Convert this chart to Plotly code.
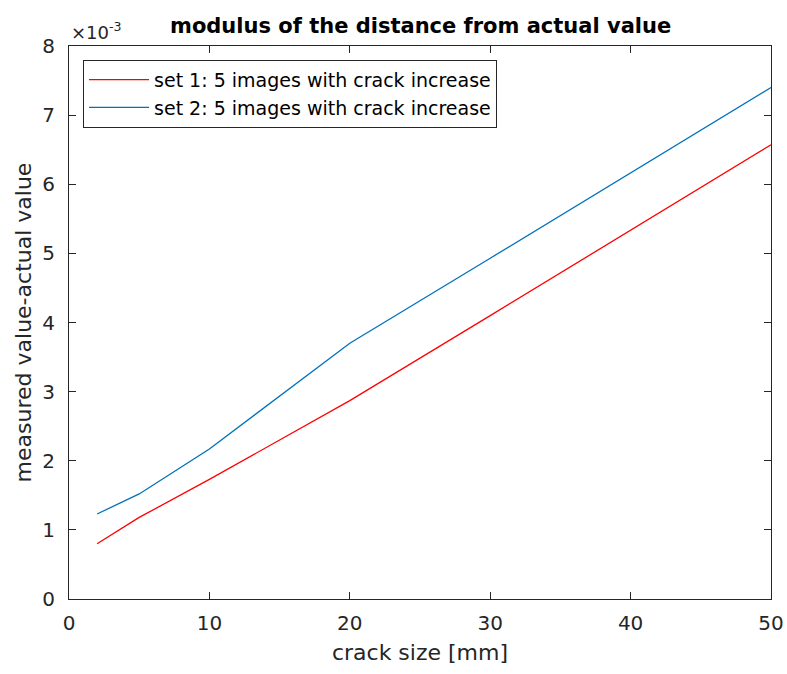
import plotly.graph_objects as go

crack_size = [2, 5, 10, 20, 30, 40, 50]
set1 = [0.00080, 0.00118, 0.00173, 0.00287, 0.00410, 0.00533, 0.00657]
set2 = [0.00123, 0.00152, 0.00217, 0.00370, 0.00493, 0.00617, 0.00740]
names = ["set 1: 5 images with crack increase", "set 2: 5 images with crack increase"]
y_ticks = [0, 0.001, 0.002, 0.003, 0.004, 0.005, 0.006, 0.007, 0.008]
y_ticktext = ["0", "1", "2", "3", "4", "5", "6", "7", "8"]
x_ticks = [0, 10, 20, 30, 40, 50]

font = "DejaVu Sans, Liberation Sans, Arial, sans-serif"
axcol = "#262626"

fig = go.Figure()
fig.add_trace(go.Scatter(x=crack_size, y=set1, mode="lines", name=names[0],
                         line=dict(color="#FF0000", width=1.3)))
fig.add_trace(go.Scatter(x=crack_size, y=set2, mode="lines", name=names[1],
                         line=dict(color="#0072BD", width=1.3)))

axis_common = dict(showgrid=False, zeroline=False, showline=True, linecolor=axcol,
                   linewidth=1, mirror="ticks", ticks="inside", ticklen=7,
                   tickcolor=axcol, automargin=False,
                   tickfont=dict(family=font, size=20, color=axcol))

fig.update_layout(
    width=787, height=674,
    margin=dict(l=69, r=16, t=46, b=75),
    paper_bgcolor="white", plot_bgcolor="white",
    font=dict(family=font, color=axcol),
    title=dict(text="<b>modulus of the distance from actual value</b>",
               x=0.5345, xanchor="center", y=0.962, yanchor="middle",
               automargin=False,
               font=dict(family=font, size=21, color="#000000")),
    xaxis=dict(range=[0, 50], tickvals=x_ticks, ticklabelstandoff=6,
               title=dict(text="crack size [mm]", font=dict(family=font, size=22, color=axcol), standoff=10),
               **axis_common),
    yaxis=dict(range=[0, 0.008], tickvals=y_ticks, ticktext=y_ticktext, ticklabelstandoff=9,
               title=dict(text="measured value-actual value", font=dict(family=font, size=22, color=axcol), standoff=4),
               **axis_common),
    legend=dict(x=0.02, y=0.975, xanchor="left", yanchor="top",
                bgcolor="white", bordercolor=axcol, borderwidth=1,
                font=dict(family=font, size=19, color="#000000"),
                tracegroupgap=0, itemwidth=60),
    showlegend=True,
)
fig.add_annotation(text="\u00d710<sup>-3</sup>", xref="paper", yref="paper",
                   x=0, y=1.0, xanchor="left", yanchor="bottom", showarrow=False,
                   yshift=1, font=dict(family=font, size=18, color=axcol))

fig.write_html("out.html")
